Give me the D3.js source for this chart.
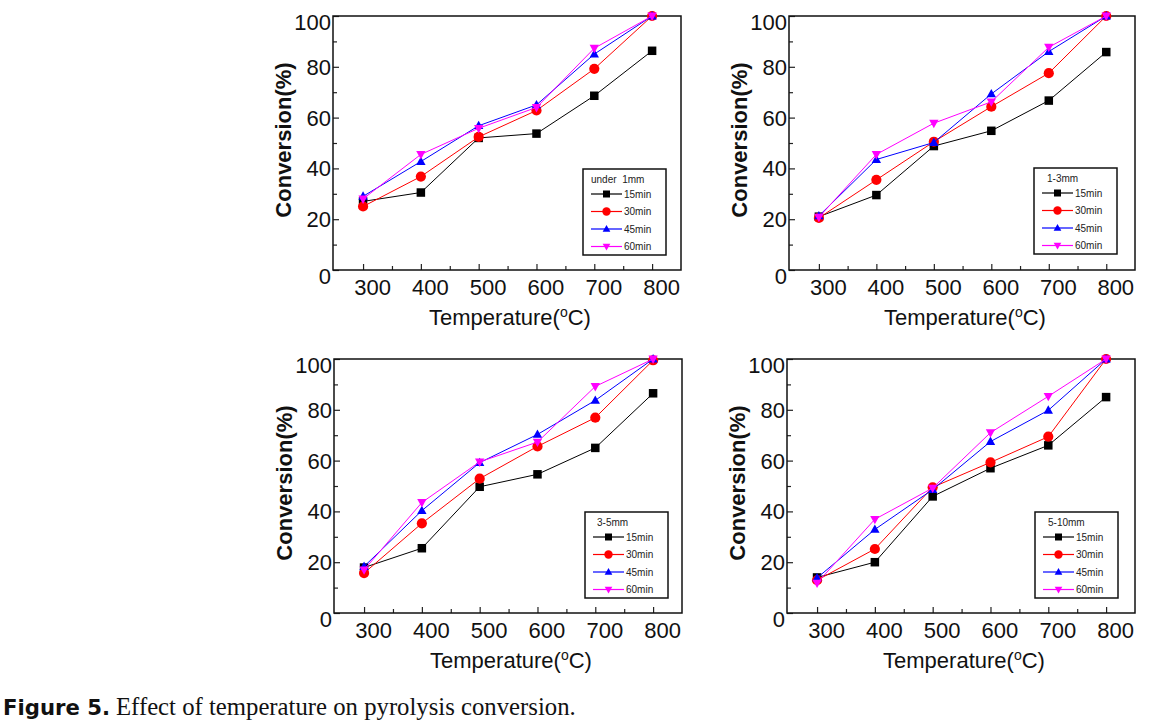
<!DOCTYPE html>
<html><head><meta charset="utf-8">
<script src="https://cdn.jsdelivr.net/npm/d3@7/dist/d3.min.js"></script>
<style>body{margin:0;background:#fff}svg{display:block}text{white-space:pre}</style>
</head><body>
<svg id="chart" width="1155" height="725"></svg>
<script>
// ---- data ----
const temps = [300, 400, 500, 600, 700, 800];
const xTickLabels = ["300", "400", "500", "600", "700", "800"];
const yTicks = [0, 20, 40, 60, 80, 100];
const seriesNames = ["15min", "30min", "45min", "60min"];
const panelTitles = ["under  1mm", "1-3mm", "3-5mm", "5-10mm"];

// under 1mm
const p1_15 = [27.0, 30.5, 52.0, 53.7, 68.6, 86.3];
const p1_30 = [25.0, 36.8, 52.4, 62.8, 79.2, 100];
const p1_45 = [29.0, 42.7, 56.8, 65.0, 85.0, 100];
const p1_60 = [28.0, 45.5, 55.8, 64.0, 87.3, 100];
// 1-3mm
const p2_15 = [21.0, 29.5, 48.8, 54.8, 66.7, 85.8];
const p2_30 = [20.5, 35.5, 50.5, 64.3, 77.5, 100];
const p2_45 = [21.3, 43.5, 50.2, 69.3, 86.0, 100];
const p2_60 = [20.8, 45.5, 57.8, 66.2, 87.7, 100];
// 3-5mm
const p3_15 = [17.9, 25.5, 49.7, 54.6, 65.0, 86.5];
const p3_30 = [15.7, 35.3, 52.9, 65.6, 76.9, 99.5];
const p3_45 = [18.3, 40.3, 59.2, 70.3, 83.7, 100];
const p3_60 = [17.0, 43.5, 59.5, 67.3, 89.2, 100];
// 5-10mm
const p4_15 = [14.0, 20.0, 45.9, 57.0, 66.0, 85.0];
const p4_30 = [12.9, 25.2, 49.5, 59.3, 69.4, 100];
const p4_45 = [13.8, 32.9, 48.6, 67.5, 79.8, 100];
const p4_60 = [11.8, 36.9, 49.2, 71.0, 85.3, 100];

const panelData = [
  [p1_15, p1_30, p1_45, p1_60],
  [p2_15, p2_30, p2_45, p2_60],
  [p3_15, p3_30, p3_45, p3_60],
  [p4_15, p4_30, p4_45, p4_60]
];

// ---- layout / styles ----
const colors = ["#000000", "#ff0000", "#0000ff", "#ff00ff"];
const symbols = ["square", "circle", "up", "down"];
const layout = [
  {x0: 333, x1: 681, y0: 16, y1: 270, lx: 583, ly: 169, tdx: 8},
  {x0: 789, x1: 1135, y0: 16, y1: 270, lx: 1034, ly: 168, tdx: 13},
  {x0: 334, x1: 682, y0: 359, y1: 613, lx: 585, ly: 512, tdx: 12},
  {x0: 787, x1: 1135, y0: 359, y1: 613, lx: 1035, ly: 512, tdx: 13}
];
const FONT = "'Liberation Sans', Arial, sans-serif";

const svg = d3.select("#chart");

function drawMarker(g, kind, cx, cy, color, s) {
  if (kind === "square") {
    g.append("rect").attr("x", cx - s/2).attr("y", cy - s/2).attr("width", s).attr("height", s).attr("fill", color);
  } else if (kind === "circle") {
    g.append("circle").attr("cx", cx).attr("cy", cy).attr("r", s*0.6).attr("fill", color);
  } else if (kind === "up") {
    const h = s*0.95;
    g.append("path").attr("d", `M${cx},${cy-h*0.62}L${cx+s*0.55},${cy+h*0.42}L${cx-s*0.55},${cy+h*0.42}Z`).attr("fill", color);
  } else {
    const h = s*0.95;
    g.append("path").attr("d", `M${cx},${cy+h*0.62}L${cx+s*0.55},${cy-h*0.42}L${cx-s*0.55},${cy-h*0.42}Z`).attr("fill", color);
  }
}

panelData.forEach((series, pi) => {
  const L = layout[pi];
  const x = d3.scaleLinear().domain([248, 850]).range([L.x0, L.x1]);
  const y = d3.scaleLinear().domain([0, 100]).range([L.y1, L.y0]);
  const g = svg.append("g");

  // minor ticks
  g.append("g").attr("transform", `translate(0,${L.y1})`)
    .call(d3.axisBottom(x).tickValues([350, 450, 550, 650, 750]).tickSize(-4).tickFormat(""))
    .call(a => a.select(".domain").remove());
  g.append("g").attr("transform", `translate(${L.x0},0)`)
    .call(d3.axisLeft(y).tickValues([10, 30, 50, 70, 90]).tickSize(-4).tickFormat(""))
    .call(a => a.select(".domain").remove());

  // major axes
  const xa = g.append("g").attr("transform", `translate(0,${L.y1})`)
    .call(d3.axisBottom(x).tickValues(temps).tickSize(-6).tickPadding(9).tickFormat((d, i) => xTickLabels[i]));
  xa.select(".domain").remove();
  xa.selectAll("text").attr("font-size", 22).attr("font-family", FONT).attr("fill", "#111").attr("dx", 9);

  const ya = g.append("g").attr("transform", `translate(${L.x0},0)`)
    .call(d3.axisLeft(y).tickValues(yTicks).tickSize(-6).tickPadding(2));
  ya.select(".domain").remove();
  ya.selectAll("text").attr("font-size", 22).attr("font-family", FONT).attr("fill", "#111")
    .attr("dy", d => (d === 0 || d === 100) ? "0.62em" : "0.34em");
  g.selectAll(".tick line").attr("stroke", "#222").attr("stroke-width", 1.2);

  // frame
  g.append("rect").attr("x", L.x0).attr("y", L.y0).attr("width", L.x1 - L.x0).attr("height", L.y1 - L.y0)
    .attr("fill", "none").attr("stroke", "#111").attr("stroke-width", 1.5);

  // axis titles
  const xt = g.append("text").attr("x", (L.x0 + L.x1) / 2 + 3).attr("y", L.y1 + 55)
    .attr("text-anchor", "middle").attr("font-size", 22).attr("font-family", FONT).attr("fill", "#111");
  xt.append("tspan").text("Temperature(");
  xt.append("tspan").text("o").attr("font-size", 14).attr("dy", -8);
  xt.append("tspan").text("C)").attr("dy", 8);

  g.append("text").attr("transform", `translate(${L.x0 - 42},${(L.y0 + L.y1) / 2 - 3}) rotate(-90)`)
    .attr("text-anchor", "middle").attr("font-size", 22).attr("font-weight", "bold")
    .attr("font-family", FONT).attr("fill", "#111").text("Conversion(%)");

  // series
  const line = d3.line().x((d, i) => x(temps[i])).y(d => y(d));
  series.forEach((vals, si) => {
    const sg = g.append("g");
    sg.append("path").datum(vals).attr("d", line).attr("fill", "none")
      .attr("stroke", colors[si]).attr("stroke-width", 1);
    vals.forEach((v, i) => drawMarker(sg, symbols[si], x(temps[i]), y(v), colors[si], 8.5));
  });

  // legend
  const lg = g.append("g");
  lg.append("rect").attr("x", L.lx).attr("y", L.ly).attr("width", 83).attr("height", 86)
    .attr("fill", "#fff").attr("stroke", "#111").attr("stroke-width", 1.5);
  lg.append("text").attr("x", L.lx + L.tdx).attr("y", L.ly + 14).attr("font-size", 10)
    .attr("font-family", FONT).attr("fill", "#222").attr("xml:space", "preserve").text(panelTitles[pi]);
  seriesNames.forEach((name, si) => {
    const ey = L.ly + 25 + si * 17.5;
    lg.append("line").attr("x1", L.lx + 8).attr("x2", L.lx + 39).attr("y1", ey).attr("y2", ey)
      .attr("stroke", colors[si]).attr("stroke-width", 1.2);
    drawMarker(lg, symbols[si], L.lx + 23.5, ey, colors[si], 7);
    lg.append("text").attr("x", L.lx + 41).attr("y", ey + 3.5).attr("font-size", 10)
      .attr("font-family", FONT).attr("fill", "#222").text(name);
  });
});

// caption
const cap1 = svg.append("text").attr("x", 3).attr("y", 715).attr("font-family", "'DejaVu Sans', sans-serif")
  .attr("font-weight", "bold").attr("font-size", 18).attr("fill", "#111").text("Figure 5.");
let w1 = cap1.node().getComputedTextLength();
cap1.attr("font-size", 18 * 107 / w1);
const cap2 = svg.append("text").attr("x", 116).attr("y", 715).attr("font-family", "'Liberation Serif', 'Times New Roman', serif")
  .attr("font-size", 20).attr("fill", "#111").text("Effect of temperature on pyrolysis conversion.");
let w2 = cap2.node().getComputedTextLength();
cap2.attr("font-size", 20 * 460 / w2);
</script>
</body></html>
